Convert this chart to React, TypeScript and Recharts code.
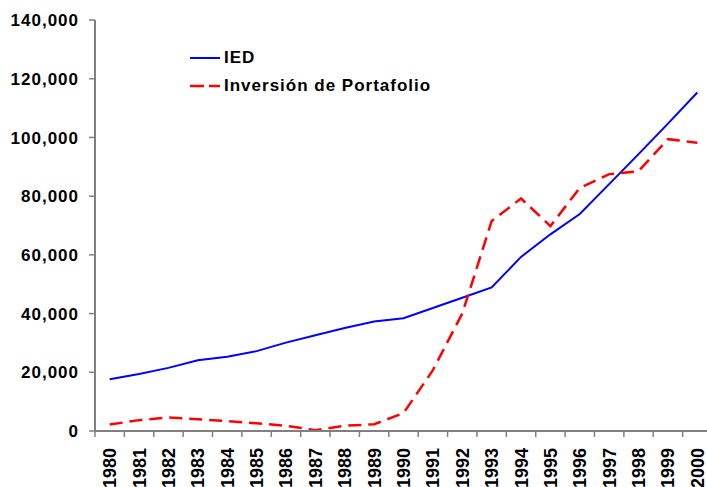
import { LineChart, Line, XAxis, YAxis } from 'recharts'

const years = [
  '1980', '1981', '1982', '1983', '1984', '1985', '1986', '1987', '1988', '1989', '1990',
  '1991', '1992', '1993', '1994', '1995', '1996', '1997', '1998', '1999', '2000',
]
const ied = [
  17600, 19400, 21500, 24100, 25300, 27200, 30100, 32600, 35100, 37300, 38400,
  41900, 45400, 48900, 59300, 67000, 73900, 84100, 94300, 104700, 115300,
]
const portafolio = [
  2200, 3700, 4600, 4000, 3400, 2600, 1800, 300, 1800, 2300, 6100,
  20700, 40000, 71500, 79200, 69800, 82800, 87500, 88500, 99400, 98200,
]
const yTicks = [0, 20000, 40000, 60000, 80000, 100000, 120000, 140000]

const data = years.map((year, i) => ({ year, ied: ied[i], portafolio: portafolio[i] }))

const FONT = '"Liberation Sans", Arial, sans-serif'
const AXIS = '#808080'
const CHART_W = 712
const CHART_H = 487
const Y_W = 95
const HALF_BAND = (CHART_W - Y_W) / years.length / 2

function fmt(v: number) {
  return v.toLocaleString('en-US')
}

function YearTick(props: any) {
  const { x, y, payload, index } = props
  return (
    <g transform={`translate(${x},${y})`}>
      <line x1={-HALF_BAND} x2={-HALF_BAND} y1={0} y2={6} stroke={AXIS} strokeWidth={1.5} />
      {index === years.length - 1 && (
        <line x1={HALF_BAND} x2={HALF_BAND} y1={0} y2={6} stroke={AXIS} strokeWidth={1.5} />
      )}
      <text
        transform="translate(0,17) rotate(-90)"
        textAnchor="end"
        dy="0.36em"
        fontFamily={FONT}
        fontWeight="bold"
        fontSize={18}
        fill="#000"
      >
        {payload.value}
      </text>
    </g>
  )
}

function ValueTick(props: any) {
  const { x, y, payload } = props
  return (
    <text
      x={x}
      y={y}
      dy="0.36em"
      textAnchor="end"
      fontFamily={FONT}
      fontWeight="bold"
      fontSize={17}
      letterSpacing={1}
      fill="#000"
    >
      {fmt(payload.value)}
    </text>
  )
}

function LegendBox() {
  const row = { display: 'flex', alignItems: 'center', height: 28 } as const
  const label = {
    fontFamily: FONT,
    fontWeight: 'bold',
    fontSize: 17,
    letterSpacing: 1,
    marginLeft: 4,
    color: '#000',
  } as const
  return (
    <div style={{ position: 'absolute', left: 190, top: 44 }}>
      <div style={row}>
        <svg width={30} height={4}>
          <line x1={0} x2={30} y1={2} y2={2} stroke="#0000ff" strokeWidth={2} />
        </svg>
        <span style={label}>IED</span>
      </div>
      <div style={row}>
        <svg width={30} height={4}>
          <line x1={0} x2={30} y1={2} y2={2} stroke="#ff0000" strokeWidth={2.5} strokeDasharray="14 5" />
        </svg>
        <span style={label}>Inversión de Portafolio</span>
      </div>
    </div>
  )
}

export default function App() {
  return (
    <div style={{ position: 'absolute', left: 0, top: 0, width: 707, height: 487, overflow: 'hidden', background: '#fff' }}>
      <LineChart width={CHART_W} height={CHART_H} data={data} margin={{ top: 20, right: 0, bottom: 0, left: 0 }}>
        <XAxis
          dataKey="year"
          interval={0}
          height={CHART_H - 431}
          padding={{ left: HALF_BAND, right: HALF_BAND }}
          tickSize={0}
          tickMargin={0}
          tickLine={false}
          axisLine={{ stroke: AXIS, strokeWidth: 2 }}
          tick={<YearTick />}
        />
        <YAxis
          width={Y_W}
          domain={[0, 140000]}
          ticks={yTicks}
          interval={0}
          tickSize={6}
          tickMargin={10}
          tickLine={{ stroke: AXIS, strokeWidth: 1.5 }}
          axisLine={{ stroke: AXIS, strokeWidth: 2 }}
          tick={<ValueTick />}
        />
        <Line
          type="linear"
          dataKey="ied"
          stroke="#0000ff"
          strokeWidth={2}
          dot={false}
          isAnimationActive={false}
        />
        <Line
          type="linear"
          dataKey="portafolio"
          stroke="#ff0000"
          strokeWidth={2.5}
          strokeDasharray="13 7"
          dot={false}
          isAnimationActive={false}
        />
      </LineChart>
      <LegendBox />
    </div>
  )
}
